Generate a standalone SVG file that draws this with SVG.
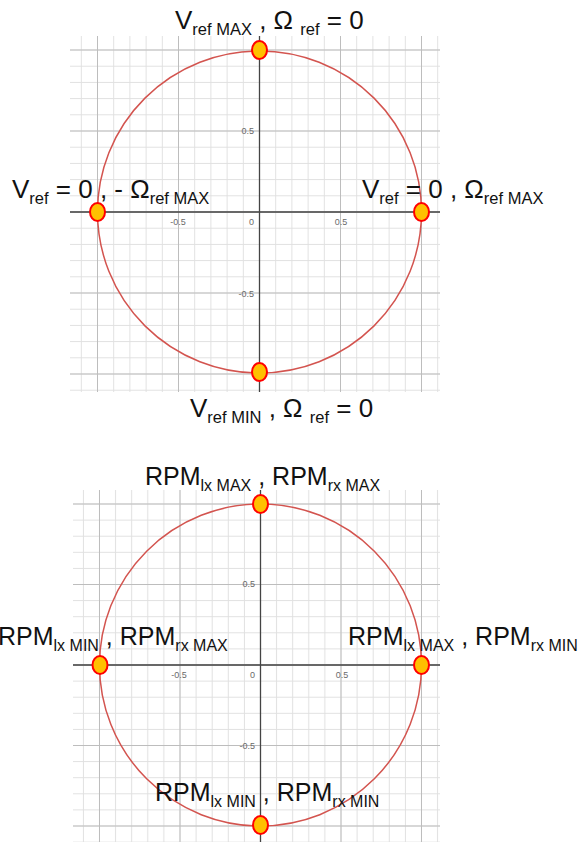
<svg xmlns="http://www.w3.org/2000/svg" width="585" height="842" viewBox="0 0 585 842">
<style>
.lbl{font-family:"Liberation Sans",Arial,sans-serif;font-size:25px;fill:#111}
.v{font-size:26px}
.sub{font-size:16px}
.v .sub{font-size:16.5px}
.tick{font-family:"Liberation Sans",Arial,sans-serif;font-size:9px;fill:#6a6a6a}
.axis{stroke:#444;stroke-width:1.3;fill:none}
.circ{stroke:#d3544f;stroke-width:1.5;fill:none}
.dot{fill:#ffc000;stroke:#ff0000;stroke-width:2}
</style>
<defs>
<pattern id="minA" patternUnits="userSpaceOnUse" x="251.4" y="203.9" width="16.2" height="16.2">
<path d="M8.1,0V16.2M0,8.1H16.2" stroke="#e0e0e0" stroke-width="1" fill="none"/>
</pattern>
<pattern id="majA" patternUnits="userSpaceOnUse" x="219" y="171.5" width="81" height="81">
<path d="M40.5,0V81M0,40.5H81" stroke="#bdbdbd" stroke-width="1" fill="none"/>
</pattern>
<pattern id="minB" patternUnits="userSpaceOnUse" x="252.45" y="656.95" width="16.1" height="16.1">
<path d="M8.05,0V16.1M0,8.05H16.1" stroke="#e0e0e0" stroke-width="1" fill="none"/>
</pattern>
<pattern id="majB" patternUnits="userSpaceOnUse" x="220.25" y="624.75" width="80.5" height="80.5">
<path d="M40.25,0V80.5M0,40.25H80.5" stroke="#bdbdbd" stroke-width="1" fill="none"/>
</pattern>
</defs>
<rect width="585" height="842" fill="#ffffff"/>

<g id="plot-top">
<rect x="70" y="36" width="370" height="356" fill="url(#minA)"/>
<rect x="70" y="36" width="370" height="356" fill="url(#majA)"/>
<path class="axis" d="M70,212H440M259.5,36V392"/>
<g class="tick">
<text x="254" y="134" text-anchor="end">0.5</text>
<text x="254" y="297" text-anchor="end">-0.5</text>
<text x="178" y="225" text-anchor="middle">-0.5</text>
<text x="254" y="225" text-anchor="end">0</text>
<text x="341" y="225" text-anchor="middle">0.5</text>
</g>
<ellipse class="circ" cx="259.5" cy="212" rx="162" ry="161"/>
</g>

<g id="plot-bottom">
<rect x="73" y="490" width="367" height="352" fill="url(#minB)"/>
<rect x="73" y="490" width="367" height="352" fill="url(#majB)"/>
<path class="axis" d="M73,665H440M260.5,490V842"/>
<g class="tick">
<text x="255" y="587" text-anchor="end">0.5</text>
<text x="255" y="749" text-anchor="end">-0.5</text>
<text x="179" y="678" text-anchor="middle">-0.5</text>
<text x="255" y="678" text-anchor="end">0</text>
<text x="342" y="678" text-anchor="middle">0.5</text>
</g>
<circle class="circ" cx="260.5" cy="665" r="161"/>
</g>

<g id="connectors"></g>

<g id="pt-top-n"><ellipse class="dot" cx="259.5" cy="50" rx="7.5" ry="9"/></g>
<g id="pt-top-w"><ellipse class="dot" cx="97.5" cy="212" rx="7.5" ry="9"/></g>
<g id="pt-top-e"><ellipse class="dot" cx="421.5" cy="212" rx="7.5" ry="9"/></g>
<g id="pt-top-s"><ellipse class="dot" cx="259.5" cy="372" rx="7.5" ry="9"/></g>
<g id="pt-bot-n"><ellipse class="dot" cx="260.5" cy="504" rx="7.5" ry="9"/></g>
<g id="pt-bot-w"><ellipse class="dot" cx="100" cy="665" rx="7.5" ry="9"/></g>
<g id="pt-bot-e"><ellipse class="dot" cx="421.5" cy="665" rx="7.5" ry="9"/></g>
<g id="pt-bot-s"><ellipse class="dot" cx="260.5" cy="825" rx="7.5" ry="9"/></g>

<g id="label-top-n"><text class="lbl v" x="175" y="29">V<tspan class="sub" dy="6">ref MAX</tspan><tspan dy="-6"> , Ω </tspan><tspan class="sub" dy="6">ref</tspan><tspan dy="-6"> = 0</tspan></text></g>
<g id="label-top-w"><text class="lbl v" x="12" y="198">V<tspan class="sub" dy="6">ref</tspan><tspan dy="-6"> = 0 , - Ω</tspan><tspan class="sub" dy="6">ref MAX</tspan></text></g>
<g id="label-top-e"><text class="lbl v" x="362" y="198">V<tspan class="sub" dy="6">ref</tspan><tspan dy="-6"> = 0 , Ω</tspan><tspan class="sub" dy="6">ref MAX</tspan></text></g>
<g id="label-top-s"><text class="lbl v" x="190" y="417">V<tspan class="sub" dy="6">ref MIN</tspan><tspan dy="-6"> , Ω </tspan><tspan class="sub" dy="6">ref</tspan><tspan dy="-6"> = 0</tspan></text></g>

<g id="label-bot-n"><text class="lbl" x="145" y="485">RPM<tspan class="sub" dy="6">lx MAX</tspan><tspan dy="-6"> , RPM</tspan><tspan class="sub" dy="6">rx MAX</tspan></text></g>
<g id="label-bot-w"><text class="lbl" x="-2" y="645">RPM<tspan class="sub" dy="6">lx MIN</tspan><tspan dy="-6"> , RPM</tspan><tspan class="sub" dy="6">rx MAX</tspan></text></g>
<g id="label-bot-e"><text class="lbl" x="348" y="645">RPM<tspan class="sub" dy="6">lx MAX</tspan><tspan dy="-6"> , RPM</tspan><tspan class="sub" dy="6">rx MIN</tspan></text></g>
<g id="label-bot-s"><text class="lbl" x="155" y="801">RPM<tspan class="sub" dy="6">lx MIN</tspan><tspan dy="-6"> , RPM</tspan><tspan class="sub" dy="6">rx MIN</tspan></text></g>
</svg>
